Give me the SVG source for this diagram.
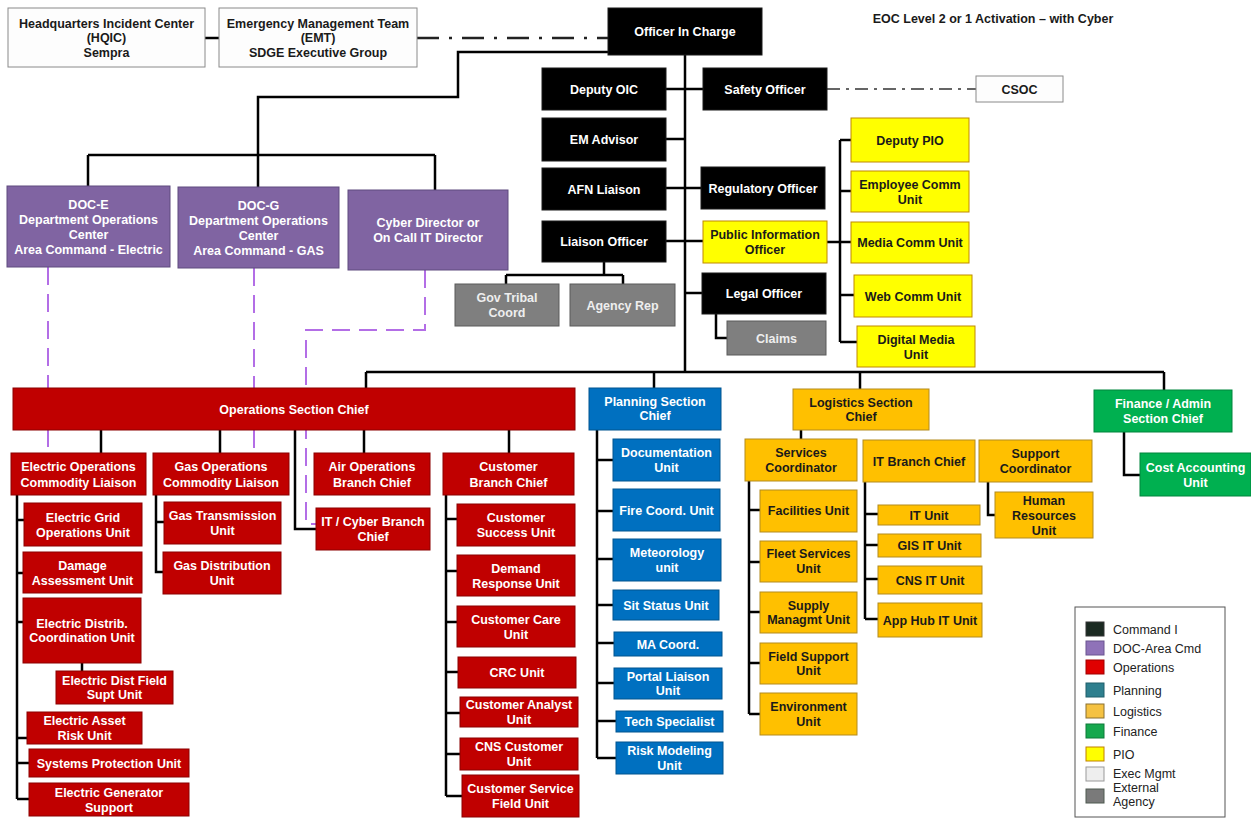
<svg xmlns="http://www.w3.org/2000/svg" width="1251" height="818" viewBox="0 0 1251 818">
  <style>
    text { font-family: "Liberation Sans", Arial, sans-serif; font-size: 12.5px; font-weight: bold; text-anchor: middle; }
    .cmd { fill: #000000; stroke: #1a1a1a; stroke-width: 1; }
    .doc { fill: #8064a2; stroke: #5e4a7e; stroke-width: 1; }
    .ops { fill: #c00000; stroke: #8c0000; stroke-width: 1; }
    .plan { fill: #0070c0; stroke: #00558f; stroke-width: 1; }
    .log { fill: #ffc000; stroke: #b38b1e; stroke-width: 1; }
    .pio { fill: #ffff00; stroke: #c08a00; stroke-width: 1; }
    .fin { fill: #00b050; stroke: #00853c; stroke-width: 1; }
    .ext { fill: #7f7f7f; stroke: #5a5a5a; stroke-width: 1; }
    .exec { fill: #fdfdfd; stroke: #8a8a8a; stroke-width: 1; }
    .tw { fill: #ffffff; }
    .tk { fill: #1a1a1a; }
    .tg { fill: #eeeeee; }
    .line { fill: none; stroke: #000000; stroke-width: 2.5; }
    .dashdot { fill: none; stroke: #222222; stroke-width: 2.5; stroke-dasharray: 22 10 3 10; }
    .dashdot-thin { fill: none; stroke: #333333; stroke-width: 1.5; stroke-dasharray: 13 6 3 6; }
    .area { fill: none; stroke: #b36ee6; stroke-width: 2; stroke-dasharray: 18 9; }
    .legend-text { font-weight: normal; text-anchor: start; fill: #222222; }
  </style>

  <!-- connectors -->
  <g id="connectors">
    <!-- executive links -->
    <path class="line" d="M205,38 H219"/>
    <path class="dashdot" d="M417,38 H608"/>
    <path class="dashdot-thin" d="M827,89 H976"/>
    <!-- command trunk -->
    <path class="line" d="M685,55 V372"/>
    <path class="line" d="M608,52 H458 V97 H258 V155"/>
    <path class="line" d="M88,155 H435 M88,155 V186 M258,155 V187 M435,155 V190"/>
    <!-- command staff -->
    <path class="line" d="M666,89 H703 M666,139 H685 M666,188 H701 M666,241 H703 M685,293 H702"/>
    <path class="line" d="M604,262 V275 M506,275 H623 M506,275 V284 M623,275 V284"/>
    <path class="line" d="M716,314 V338 H727"/>
    <!-- public information -->
    <path class="line" d="M827,242 H851 M840,140 V342 M840,140 H851 M840,191 H851 M840,295 H854 M840,342 H857"/>
    <!-- general staff bus -->
    <path class="line" d="M366,372 H1164 M366,372 V388 M654,372 V388 M860,372 V389 M1164,372 V390"/>
    <!-- operations branches -->
    <path class="line" d="M101,430 V453 M220,430 V453 M364,430 V453 M509,430 V453 M295,430 V529 H316"/>
    <path class="line" d="M17,495 V799 M17,520 H24 M17,573 H23 M17,622 H23 M17,738 H27 M17,763 H29 M17,799 H29 M82,663 V671"/>
    <path class="line" d="M156,495 V572 H163 M156,522 H164"/>
    <path class="line" d="M446,495 V796 M446,519 H457 M446,571 H457 M446,622 H457 M446,672 H458 M446,713 H460 M446,754 H460 M446,796 H462"/>
    <!-- planning units -->
    <path class="line" d="M597,430 V758 M597,460 H613 M597,511 H613 M597,559 H613 M597,605 H613 M597,643 H614 M597,683 H614 M597,721 H616 M597,758 H616"/>
    <!-- logistics units -->
    <path class="line" d="M801,430 V439"/>
    <path class="line" d="M749,481 V714 M749,510 H760 M749,562 H760 M749,612 H760 M749,663 H760 M749,714 H760"/>
    <path class="line" d="M865,482 V619 M865,514 H878 M865,545 H878 M865,579 H878 M865,619 H878"/>
    <path class="line" d="M988,482 V515 H995"/>
    <!-- finance units -->
    <path class="line" d="M1124,432 V475 H1140"/>
    <!-- area command coordination links -->
    <path class="area" d="M48,267 V453"/>
    <path class="area" d="M254,268 V453"/>
    <path class="area" d="M425,270 V330 H306 V524 H316"/>
  </g>

  <!-- title -->
  <text x="993" y="23" class="tk">EOC Level 2 or 1 Activation – with Cyber</text>

  <!-- executive management -->
  <g id="hqic"><rect class="exec" x="8" y="8" width="197" height="59"/>
    <text class="tk"><tspan x="106.5" y="27.5">Headquarters Incident Center</tspan><tspan x="106.5" y="42">(HQIC)</tspan><tspan x="106.5" y="56.5">Sempra</tspan></text></g>
  <g id="emt"><rect class="exec" x="219" y="8" width="198" height="59"/>
    <text class="tk"><tspan x="318" y="27.5">Emergency Management Team</tspan><tspan x="318" y="42">(EMT)</tspan><tspan x="318" y="56.5">SDGE Executive Group</tspan></text></g>
  <g id="csoc"><rect class="exec" x="976" y="76" width="87" height="26"/>
    <text class="tk" x="1019.5" y="93.5">CSOC</text></g>

  <!-- command -->
  <g id="oic"><rect class="cmd" x="608" y="8" width="154" height="47"/>
    <text class="tw" x="685" y="36">Officer In Charge</text></g>
  <g id="deputy-oic"><rect class="cmd" x="542" y="68" width="124" height="42"/>
    <text class="tw" x="604" y="93.5">Deputy OIC</text></g>
  <g id="safety-officer"><rect class="cmd" x="703" y="68" width="124" height="42"/>
    <text class="tw" x="765" y="93.5">Safety Officer</text></g>
  <g id="em-advisor"><rect class="cmd" x="542" y="118" width="124" height="43"/>
    <text class="tw" x="604" y="144">EM Advisor</text></g>
  <g id="afn-liaison"><rect class="cmd" x="542" y="168" width="124" height="42"/>
    <text class="tw" x="604" y="193.5">AFN Liaison</text></g>
  <g id="regulatory-officer"><rect class="cmd" x="701" y="167" width="124" height="42"/>
    <text class="tw" x="763" y="192.5">Regulatory Officer</text></g>
  <g id="liaison-officer"><rect class="cmd" x="542" y="221" width="124" height="41"/>
    <text class="tw" x="604" y="246">Liaison Officer</text></g>
  <g id="pio"><rect class="pio" x="703" y="221" width="124" height="42"/>
    <text class="tk"><tspan x="765" y="238.5">Public Information</tspan><tspan x="765" y="253.5">Officer</tspan></text></g>
  <g id="legal-officer"><rect class="cmd" x="702" y="273" width="124" height="41"/>
    <text class="tw" x="764" y="298">Legal Officer</text></g>
  <g id="claims"><rect class="ext" x="727" y="321" width="99" height="34"/>
    <text class="tg" x="776.5" y="342.5">Claims</text></g>
  <g id="gov-tribal"><rect class="ext" x="455" y="284" width="104" height="42"/>
    <text class="tg"><tspan x="507" y="302">Gov Tribal</tspan><tspan x="507" y="317">Coord</tspan></text></g>
  <g id="agency-rep"><rect class="ext" x="570" y="284" width="105" height="42"/>
    <text class="tg" x="622.5" y="309.5">Agency Rep</text></g>

  <!-- public information units -->
  <g id="deputy-pio"><rect class="pio" x="851" y="118" width="118" height="44"/>
    <text class="tk" x="910" y="144.5">Deputy PIO</text></g>
  <g id="employee-comm"><rect class="pio" x="851" y="171" width="118" height="41"/>
    <text class="tk"><tspan x="910" y="188.5">Employee Comm</tspan><tspan x="910" y="203.5">Unit</tspan></text></g>
  <g id="media-comm"><rect class="pio" x="851" y="222" width="118" height="41"/>
    <text class="tk" x="910" y="247">Media Comm Unit</text></g>
  <g id="web-comm"><rect class="pio" x="854" y="275" width="118" height="42"/>
    <text class="tk" x="913" y="300.5">Web Comm Unit</text></g>
  <g id="digital-media"><rect class="pio" x="857" y="326" width="118" height="41"/>
    <text class="tk"><tspan x="916" y="343.5">Digital Media</tspan><tspan x="916" y="358.5">Unit</tspan></text></g>

  <!-- area command -->
  <g id="doc-e"><rect class="doc" x="7" y="186" width="163" height="81"/>
    <text class="tw"><tspan x="88.5" y="208.5">DOC-E</tspan><tspan x="88.5" y="223.5">Department Operations</tspan><tspan x="88.5" y="238.5">Center</tspan><tspan x="88.5" y="253.5">Area Command - Electric</tspan></text></g>
  <g id="doc-g"><rect class="doc" x="178" y="187" width="161" height="81"/>
    <text class="tw"><tspan x="258.5" y="209.5">DOC-G</tspan><tspan x="258.5" y="224.5">Department Operations</tspan><tspan x="258.5" y="239.5">Center</tspan><tspan x="258.5" y="254.5">Area Command - GAS</tspan></text></g>
  <g id="cyber-director"><rect class="doc" x="348" y="190" width="160" height="80"/>
    <text class="tw"><tspan x="428" y="227">Cyber Director or</tspan><tspan x="428" y="242">On Call IT Director</tspan></text></g>

  <!-- section chiefs -->
  <g id="operations-chief"><rect class="ops" x="13" y="388" width="562" height="42"/>
    <text class="tw" x="294" y="413.5">Operations Section Chief</text></g>
  <g id="planning-chief"><rect class="plan" x="589" y="388" width="132" height="42"/>
    <text class="tw"><tspan x="655" y="405.5">Planning  Section</tspan><tspan x="655" y="420">Chief</tspan></text></g>
  <g id="logistics-chief"><rect class="log" x="793" y="389" width="136" height="41"/>
    <text class="tk"><tspan x="861" y="406.5">Logistics Section</tspan><tspan x="861" y="421">Chief</tspan></text></g>
  <g id="finance-chief"><rect class="fin" x="1094" y="390" width="138" height="42"/>
    <text class="tw"><tspan x="1163" y="408">Finance / Admin</tspan><tspan x="1163" y="422.5">Section Chief</tspan></text></g>

  <!-- operations branches -->
  <g id="electric-liaison"><rect class="ops" x="11" y="453" width="135" height="42"/>
    <text class="tw"><tspan x="78.5" y="471">Electric Operations</tspan><tspan x="78.5" y="486.5">Commodity Liaison</tspan></text></g>
  <g id="gas-liaison"><rect class="ops" x="153" y="453" width="136" height="42"/>
    <text class="tw"><tspan x="221" y="471">Gas Operations</tspan><tspan x="221" y="486.5">Commodity Liaison</tspan></text></g>
  <g id="air-operations"><rect class="ops" x="314" y="453" width="116" height="42"/>
    <text class="tw"><tspan x="372" y="471">Air Operations</tspan><tspan x="372" y="486.5">Branch Chief</tspan></text></g>
  <g id="customer-branch"><rect class="ops" x="443" y="453" width="131" height="42"/>
    <text class="tw"><tspan x="508.5" y="471">Customer</tspan><tspan x="508.5" y="486.5">Branch Chief</tspan></text></g>
  <g id="it-cyber-branch"><rect class="ops" x="316" y="508" width="114" height="42"/>
    <text class="tw"><tspan x="373" y="526">IT / Cyber Branch</tspan><tspan x="373" y="541">Chief</tspan></text></g>

  <!-- electric units -->
  <g id="electric-grid"><rect class="ops" x="24" y="503" width="118" height="43"/>
    <text class="tw"><tspan x="83" y="521.5">Electric Grid</tspan><tspan x="83" y="536.5">Operations Unit</tspan></text></g>
  <g id="damage-assessment"><rect class="ops" x="23" y="552" width="119" height="41"/>
    <text class="tw"><tspan x="82.5" y="569.5">Damage</tspan><tspan x="82.5" y="584.5">Assessment Unit</tspan></text></g>
  <g id="electric-distrib"><rect class="ops" x="23" y="598" width="118" height="65"/>
    <text class="tw"><tspan x="82" y="627.5">Electric Distrib.</tspan><tspan x="82" y="642">Coordination  Unit</tspan></text></g>
  <g id="electric-dist-field"><rect class="ops" x="56" y="671" width="117" height="33"/>
    <text class="tw"><tspan x="114.5" y="684.5">Electric Dist Field</tspan><tspan x="114.5" y="699">Supt Unit</tspan></text></g>
  <g id="electric-asset-risk"><rect class="ops" x="27" y="712" width="115" height="32"/>
    <text class="tw"><tspan x="84.5" y="725">Electric Asset</tspan><tspan x="84.5" y="739.5">Risk Unit</tspan></text></g>
  <g id="systems-protection"><rect class="ops" x="29" y="749" width="160" height="28"/>
    <text class="tw" x="109" y="767.5">Systems Protection Unit</text></g>
  <g id="electric-generator"><rect class="ops" x="29" y="783" width="160" height="33"/>
    <text class="tw"><tspan x="109" y="796.5">Electric Generator</tspan><tspan x="109" y="811.5">Support</tspan></text></g>

  <!-- gas units -->
  <g id="gas-transmission"><rect class="ops" x="164" y="502" width="117" height="42"/>
    <text class="tw"><tspan x="222.5" y="519.5">Gas Transmission</tspan><tspan x="222.5" y="534.5">Unit</tspan></text></g>
  <g id="gas-distribution"><rect class="ops" x="163" y="552" width="118" height="42"/>
    <text class="tw"><tspan x="222" y="570">Gas Distribution</tspan><tspan x="222" y="585">Unit</tspan></text></g>

  <!-- customer units -->
  <g id="customer-success"><rect class="ops" x="457" y="504" width="118" height="42"/>
    <text class="tw"><tspan x="516" y="522">Customer</tspan><tspan x="516" y="537">Success Unit</tspan></text></g>
  <g id="demand-response"><rect class="ops" x="457" y="555" width="118" height="41"/>
    <text class="tw"><tspan x="516" y="572.5">Demand</tspan><tspan x="516" y="587.5">Response Unit</tspan></text></g>
  <g id="customer-care"><rect class="ops" x="457" y="606" width="118" height="41"/>
    <text class="tw"><tspan x="516" y="623.5">Customer Care</tspan><tspan x="516" y="638.5">Unit</tspan></text></g>
  <g id="crc-unit"><rect class="ops" x="458" y="657" width="118" height="31"/>
    <text class="tw" x="517" y="677">CRC Unit</text></g>
  <g id="customer-analyst"><rect class="ops" x="460" y="697" width="118" height="30"/>
    <text class="tw"><tspan x="519" y="709">Customer Analyst</tspan><tspan x="519" y="723.5">Unit</tspan></text></g>
  <g id="cns-customer"><rect class="ops" x="460" y="738" width="118" height="32"/>
    <text class="tw"><tspan x="519" y="750.5">CNS Customer</tspan><tspan x="519" y="765.5">Unit</tspan></text></g>
  <g id="customer-service-field"><rect class="ops" x="462" y="775" width="117" height="42"/>
    <text class="tw"><tspan x="520.5" y="793">Customer Service</tspan><tspan x="520.5" y="808">Field Unit</tspan></text></g>

  <!-- planning units -->
  <g id="documentation"><rect class="plan" x="613" y="439" width="107" height="42"/>
    <text class="tw"><tspan x="666.5" y="457">Documentation</tspan><tspan x="666.5" y="472">Unit</tspan></text></g>
  <g id="fire-coord"><rect class="plan" x="613" y="489" width="107" height="42"/>
    <text class="tw" x="666.5" y="514.5">Fire Coord. Unit</text></g>
  <g id="meteorology"><rect class="plan" x="613" y="539" width="108" height="42"/>
    <text class="tw"><tspan x="667" y="557">Meteorology</tspan><tspan x="667" y="572">unit</tspan></text></g>
  <g id="sit-status"><rect class="plan" x="613" y="590" width="106" height="30"/>
    <text class="tw" x="666" y="609.5">Sit Status Unit</text></g>
  <g id="ma-coord"><rect class="plan" x="614" y="632" width="108" height="24"/>
    <text class="tw" x="668" y="648.5">MA Coord.</text></g>
  <g id="portal-liaison"><rect class="plan" x="614" y="668" width="108" height="31"/>
    <text class="tw"><tspan x="668" y="680.5">Portal Liaison</tspan><tspan x="668" y="695">Unit</tspan></text></g>
  <g id="tech-specialist"><rect class="plan" x="616" y="711" width="107" height="21"/>
    <text class="tw" x="669.5" y="726">Tech Specialist</text></g>
  <g id="risk-modeling"><rect class="plan" x="616" y="742" width="107" height="32"/>
    <text class="tw"><tspan x="669.5" y="755">Risk Modeling</tspan><tspan x="669.5" y="769.5">Unit</tspan></text></g>

  <!-- logistics units -->
  <g id="services-coordinator"><rect class="log" x="745" y="439" width="112" height="42"/>
    <text class="tk"><tspan x="801" y="457">Services</tspan><tspan x="801" y="471.5">Coordinator</tspan></text></g>
  <g id="it-branch"><rect class="log" x="863" y="440" width="112" height="42"/>
    <text class="tk" x="919" y="465.5">IT Branch Chief</text></g>
  <g id="support-coordinator"><rect class="log" x="979" y="440" width="113" height="42"/>
    <text class="tk"><tspan x="1035.5" y="458">Support</tspan><tspan x="1035.5" y="472.5">Coordinator</tspan></text></g>
  <g id="facilities"><rect class="log" x="760" y="490" width="97" height="42"/>
    <text class="tk" x="808.5" y="515">Facilities Unit</text></g>
  <g id="fleet-services"><rect class="log" x="760" y="541" width="97" height="41"/>
    <text class="tk"><tspan x="808.5" y="558">Fleet Services</tspan><tspan x="808.5" y="572.5">Unit</tspan></text></g>
  <g id="supply"><rect class="log" x="760" y="592" width="97" height="41"/>
    <text class="tk"><tspan x="808.5" y="609.5">Supply</tspan><tspan x="808.5" y="624">Managmt Unit</tspan></text></g>
  <g id="field-support"><rect class="log" x="760" y="643" width="97" height="41"/>
    <text class="tk"><tspan x="808.5" y="660.5">Field Support</tspan><tspan x="808.5" y="675">Unit</tspan></text></g>
  <g id="environment"><rect class="log" x="760" y="693" width="97" height="42"/>
    <text class="tk"><tspan x="808.5" y="711">Environment</tspan><tspan x="808.5" y="725.5">Unit</tspan></text></g>
  <g id="it-unit"><rect class="log" x="878" y="505" width="102" height="20"/>
    <text class="tk" x="929" y="519.5">IT Unit</text></g>
  <g id="gis-it-unit"><rect class="log" x="878" y="534" width="103" height="23"/>
    <text class="tk" x="929.5" y="550">GIS IT Unit</text></g>
  <g id="cns-it-unit"><rect class="log" x="878" y="566" width="104" height="28"/>
    <text class="tk" x="930" y="584.5">CNS IT Unit</text></g>
  <g id="app-hub-it-unit"><rect class="log" x="878" y="603" width="104" height="34"/>
    <text class="tk" x="930" y="624.5">App Hub IT Unit</text></g>
  <g id="human-resources"><rect class="log" x="995" y="492" width="98" height="46"/>
    <text class="tk"><tspan x="1044" y="504.5">Human</tspan><tspan x="1044" y="519.5">Resources</tspan><tspan x="1044" y="534.5">Unit</tspan></text></g>

  <!-- finance units -->
  <g id="cost-accounting"><rect class="fin" x="1140" y="453" width="111" height="43"/>
    <text class="tw"><tspan x="1195.5" y="472">Cost Accounting</tspan><tspan x="1195.5" y="486.5">Unit</tspan></text></g>

  <!-- legend -->
  <g id="legend">
    <rect x="1075" y="607" width="150" height="210" fill="#ffffff" stroke="#555555" stroke-width="1"/>
    <rect x="1086" y="622" width="18" height="14" fill="#1b2a22" stroke="#333333"/>
    <text class="legend-text" x="1113" y="634">Command I</text>
    <rect x="1086" y="641" width="18" height="14" fill="#8f72b8" stroke="#6a5590"/>
    <text class="legend-text" x="1113" y="653">DOC-Area Cmd</text>
    <rect x="1086" y="660" width="18" height="14" fill="#e00000" stroke="#a00000"/>
    <text class="legend-text" x="1113" y="672">Operations</text>
    <rect x="1086" y="683" width="18" height="14" fill="#2e7f8e" stroke="#1f5f6a"/>
    <text class="legend-text" x="1113" y="695">Planning</text>
    <rect x="1086" y="704" width="18" height="14" fill="#f5c242" stroke="#8a7030"/>
    <text class="legend-text" x="1113" y="716">Logistics</text>
    <rect x="1086" y="724" width="18" height="14" fill="#16a84e" stroke="#0d7a38"/>
    <text class="legend-text" x="1113" y="736">Finance</text>
    <rect x="1086" y="747" width="18" height="14" fill="#ffff00" stroke="#c08000"/>
    <text class="legend-text" x="1113" y="759">PIO</text>
    <rect x="1086" y="767" width="18" height="14" fill="#eeeeee" stroke="#999999"/>
    <text class="legend-text" x="1113" y="778">Exec Mgmt</text>
    <rect x="1086" y="789" width="18" height="14" fill="#7a7a7a" stroke="#4f5a50"/>
    <text class="legend-text"><tspan x="1113" y="792">External</tspan><tspan x="1113" y="806">Agency</tspan></text>
  </g>
</svg>
